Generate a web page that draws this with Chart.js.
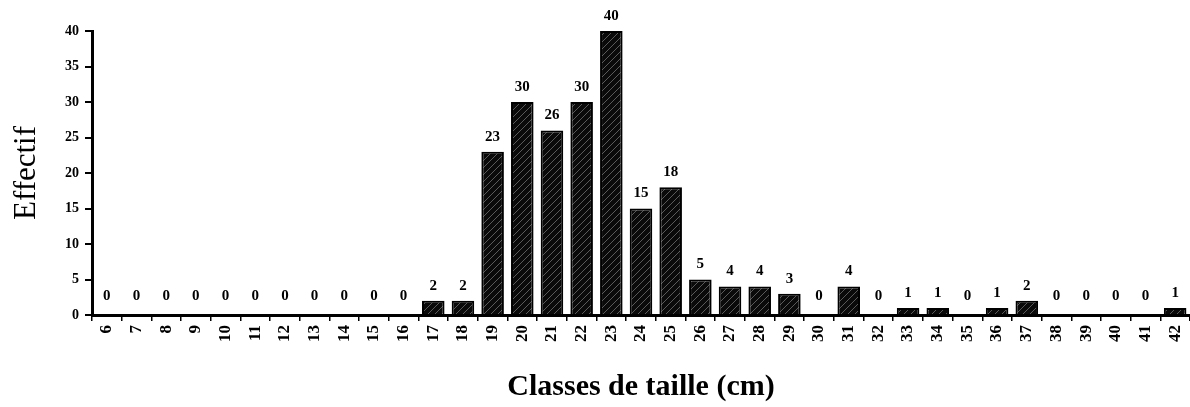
<!DOCTYPE html>
<html>
<head>
<meta charset="utf-8">
<script src="https://cdn.jsdelivr.net/npm/chart.js@4/dist/chart.umd.min.js"></script>
<style>
  html, body { margin: 0; padding: 0; background: #fff; }
  #wrap { width: 1190px; height: 407px; position: relative; }
</style>
</head>
<body>
<div id="wrap"><canvas id="chartTaille"></canvas></div>
<script>
// Classes de taille (cm) et effectifs
const classes = ['6','7','8','9','10','11','12','13','14','15','16','17','18','19','20','21','22','23','24','25','26','27','28','29','30','31','32','33','34','35','36','37','38','39','40','41','42'];
const effectifs = [0,0,0,0,0,0,0,0,0,0,0,2,2,23,30,26,30,40,15,18,5,4,4,3,0,4,0,1,1,0,1,2,0,0,0,0,1];
const yTicks = [0,5,10,15,20,25,30,35,40];

const serif = '"Liberation Serif", "DejaVu Serif", serif';

// motif hachuré des barres
function makeHatch() {
    const c = document.createElement('canvas');
    c.width = 7; c.height = 7;
    const g = c.getContext('2d');
    g.fillStyle = '#0a0a0a';
    g.fillRect(0, 0, 7, 7);
    g.strokeStyle = '#5a5a5a';
    g.lineWidth = 1;
    g.beginPath();
    g.moveTo(0, 7); g.lineTo(7, 0);
    g.stroke();
    return g.createPattern(c, 'repeat');
}

// étiquettes des valeurs au-dessus des barres
const valueLabels = {
    id: 'valueLabels',
    afterDatasetsDraw(chart) {
        const ctx = chart.ctx;
        const meta = chart.getDatasetMeta(0);
        ctx.save();
        ctx.font = 'bold 15px ' + serif;
        ctx.fillStyle = '#000';
        ctx.textAlign = 'center';
        ctx.textBaseline = 'middle';
        meta.data.forEach((bar, i) => {
            const v = effectifs[i];
            const off = v === 0 ? 19 : 15;
            ctx.fillText(String(v), bar.x, bar.y - off);
        });
        ctx.restore();
    }
};

const ctx = document.getElementById('chartTaille');
new Chart(ctx, {
    type: 'bar',
    data: {
        labels: classes,
        datasets: [{
            data: effectifs,
            backgroundColor: makeHatch(),
            borderColor: '#000',
            borderWidth: 2,
            barPercentage: 0.76,
            categoryPercentage: 1.0
        }]
    },
    options: {
        responsive: true,
        maintainAspectRatio: false,
        animation: false,
        layout: { padding: { top: 31, right: 0, left: 0, bottom: 0 } },
        plugins: {
            legend: { display: false },
            tooltip: { enabled: false }
        },
        scales: {
            x: {
                offset: true,
                grid: { display: true, drawOnChartArea: false, offset: true, tickLength: 6, color: '#000', lineWidth: 1.5 },
                border: { display: true, color: '#000', width: 3 },
                ticks: {
                    color: '#000',
                    font: { family: serif, size: 17, weight: 'bold' },
                    minRotation: 90,
                    maxRotation: 90,
                    autoSkip: false,
                    padding: 4
                },
                title: {
                    display: true,
                    text: 'Classes de taille (cm)',
                    color: '#000',
                    font: { family: serif, size: 30, weight: 'bold' },
                    padding: { top: 6, bottom: 2 }
                },
                afterFit(scale) {
                    scale.height = 92;
                    scale.paddingLeft = 0;
                    scale.paddingRight = 0;
                }
            },
            y: {
                min: 0,
                max: 40,
                afterBuildTicks(scale) { scale.ticks = yTicks.map(v => ({ value: v })); },
                grid: { display: true, drawOnChartArea: false, tickLength: 7, color: '#000', lineWidth: 2 },
                border: { display: true, color: '#000', width: 3 },
                ticks: {
                    color: '#000',
                    font: { family: serif, size: 14, weight: 'bold' },
                    padding: 6
                },
                title: {
                    display: true,
                    text: 'Effectif',
                    color: '#000',
                    font: { family: serif, size: 31 },
                    padding: { top: 8, bottom: 8 }
                },
                afterFit(scale) { scale.width = 92; }
            }
        }
    },
    plugins: [valueLabels]
});
</script>
</body>
</html>
